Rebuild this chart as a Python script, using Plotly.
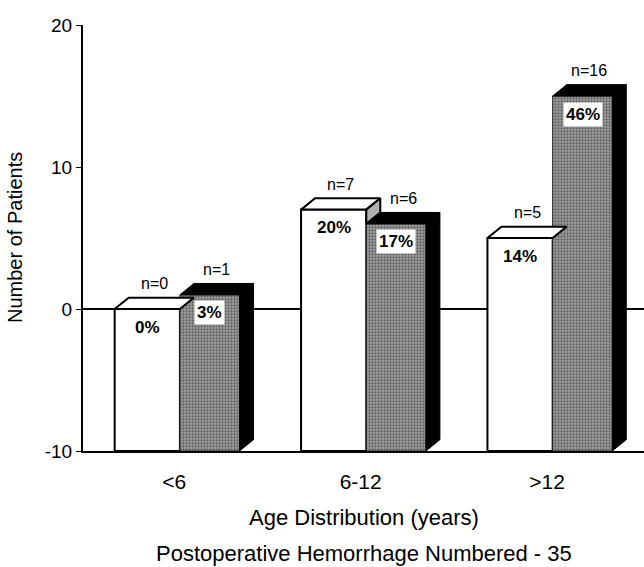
import plotly.graph_objects as go

categories = ["<6", "6-12", ">12"]
white_values = [0, 7, 5]
gray_values = [1, 6, 15]
white_n = ["n=0", "n=7", "n=5"]
gray_n = ["n=1", "n=6", "n=16"]
white_pct = ["0%", "20%", "14%"]
gray_pct = ["3%", "17%", "46%"]
y_ticks = [-10, 0, 10, 20]
y_tick_text = ["-10", "0", "10", "20"]

BASE = -10
WW = 0.35   # white bar width (x units)
GW = 0.32   # gray bar width
DX = 0.075  # depth offset in x units
DY = 0.8    # depth offset in y units
FONT = "Liberation Sans, Arial, Helvetica, sans-serif"

xpos = list(range(len(categories)))

fig = go.Figure()

# front faces
fig.add_trace(go.Bar(
    x=xpos, y=[v - BASE for v in white_values], base=BASE,
    width=WW, offset=-WW,
    marker=dict(color="white", line=dict(color="black", width=2)),
    hoverinfo="skip", showlegend=False))
fig.add_trace(go.Bar(
    x=xpos, y=[v - BASE for v in gray_values], base=BASE,
    width=GW, offset=0,
    marker=dict(color="#8c8c8c", line=dict(color="#222", width=1),
                pattern=dict(shape=".", fgcolor="#1e1e1e", bgcolor="#a2a2a2",
                             size=3, solidity=0.45)),
    hoverinfo="skip", showlegend=False))


def poly(xs, ys, fill, line_color="black", lw=2):
    fig.add_trace(go.Scatter(
        x=xs + [xs[0]], y=ys + [ys[0]], mode="lines", fill="toself",
        fillcolor=fill, line=dict(color=line_color, width=lw),
        hoverinfo="skip", showlegend=False))


for i, x in enumerate(xpos):
    w = white_values[i]
    g = gray_values[i]
    x0 = x - WW
    x1 = x
    # white top face
    poly([x0, x0 + DX, x1 + DX, x1], [w, w + DY, w + DY, w], "white")
    # visible part of white side face (above gray bar)
    if w > g:
        poly([x1, x1 + DX, x1 + DX, x1], [g, g + DY, w + DY, w], "#b0b0b0")

for i, x in enumerate(xpos):
    g = gray_values[i]
    x0 = x
    x1 = x + GW
    # gray bar top face (black)
    poly([x0, x0 + DX, x1 + DX, x1], [g, g + DY, g + DY, g], "black", lw=1)
    # gray bar side face (black)
    poly([x1, x1 + DX, x1 + DX, x1], [g, g + DY, BASE + DY, BASE], "black", lw=1)

annotations = []
for i, x in enumerate(xpos):
    w = white_values[i]
    g = gray_values[i]
    annotations.append(dict(
        x=x - WW / 2, y=w, xref="x", yref="y", text="<b>%s</b>" % white_pct[i],
        showarrow=False, yshift=-18, font=dict(family=FONT, size=17, color="black")))
    annotations.append(dict(
        x=x + GW / 2, y=g, xref="x", yref="y", text="<b>%s</b>" % gray_pct[i],
        showarrow=False, yshift=-18, bgcolor="white", borderpad=2,
        font=dict(family=FONT, size=17, color="black")))
    annotations.append(dict(
        x=x - WW / 2 + DX / 2, y=w + DY, xref="x", yref="y", text=white_n[i],
        showarrow=False, yshift=14, font=dict(family=FONT, size=16, color="black")))
    annotations.append(dict(
        x=x + GW / 2 + DX / 2, y=g + DY, xref="x", yref="y", text=gray_n[i],
        showarrow=False, yshift=14, font=dict(family=FONT, size=16, color="black")))

annotations.append(dict(
    x=0.5, y=0, xref="paper", yref="paper", yshift=-66, yanchor="middle",
    text="Age Distribution (years)", showarrow=False,
    font=dict(family=FONT, size=22, color="black")))
annotations.append(dict(
    x=0.5, y=0, xref="paper", yref="paper", yshift=-102, yanchor="middle",
    text="Postoperative Hemorrhage Numbered - 35", showarrow=False,
    font=dict(family=FONT, size=22, color="black")))
annotations.append(dict(
    x=0, y=0.5, xref="paper", yref="paper", xshift=-68, xanchor="center",
    yanchor="middle", textangle=-90,
    text="Number of Patients", showarrow=False,
    font=dict(family=FONT, size=20, color="black")))

fig.update_layout(
    width=644, height=567,
    margin=dict(l=83, r=0, t=25, b=116),
    paper_bgcolor="white", plot_bgcolor="white",
    barmode="overlay",
    annotations=annotations,
    xaxis=dict(range=[-0.52, 2.49], showgrid=False, zeroline=False,
               showline=True, linecolor="black", linewidth=2,
               tickvals=[x - 0.03 for x in xpos], ticktext=categories,
               ticks="", tickfont=dict(family=FONT, size=21, color="black"),
               ticklabelstandoff=11),
    yaxis=dict(range=[-10, 20], tickvals=y_ticks, ticktext=y_tick_text,
               showgrid=False,
               zeroline=True, zerolinecolor="black", zerolinewidth=1.5,
               showline=True, linecolor="black", linewidth=2,
               ticks="outside", ticklen=5, tickcolor="black",
               tickfont=dict(family=FONT, size=19, color="black")),
)

fig.write_html("out.html")
